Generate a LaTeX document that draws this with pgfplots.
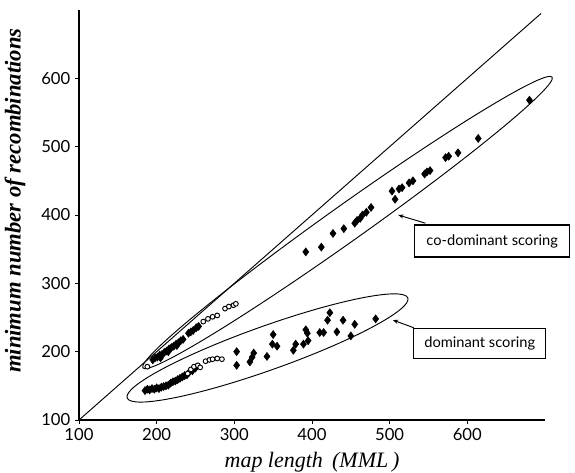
\documentclass[border=0pt]{standalone}
\usepackage{fontspec}
\setmainfont{Liberation Serif}
\newfontfamily\lato{Lato}
\usepackage{pgfplots}
\pgfplotsset{compat=1.18}
\usetikzlibrary{shapes.geometric,arrows.meta}

% co-dominant scoring, filled markers
\pgfplotstableread{
x y
195 188
198 191
201 192
204 195
205 191
207 196
210 199
213 201
215 200
216 204
219 206
222 208
225 211
226 209
228 213
231 216
234 218
241 227
244 229
247 231
251 235
254 237
392 346
412 353
427 373
441 380
455 388
458 392
462 395
465 400
470 404
476 411
503 435
507 423
512 438
516 440
525 447
530 450
545 460
548 463
552 465
572 484
576 486
588 491
614 512
680 568
}\codomfull

% co-dominant scoring, open markers
\pgfplotstableread{
x y
188 178
260 244
266 248
272 251
278 253
288 263
293 266
299 268
302 270
}\codomopen

% dominant scoring, filled markers
\pgfplotstableread{
x y
185 143
188 145
191 144
194 146
197 145
200 147
203 146
206 148
209 149
212 150
215 151
218 154
221 156
224 157
227 159
230 161
233 163
236 165
239 166
242 170
246 172
250 176
303 200
303 180
320 185
323 192
325 198
342 193
349 211
355 208
350 225
376 202
379 211
389 211
395 216
392 232
394 227
410 228
415 228
420 246
423 257
432 229
440 246
450 223
455 240
482 248
}\domfull

% dominant scoring, open markers
\pgfplotstableread{
x y
240 168
244 174
248 178
253 180
256 177
263 186
268 188
272 189
278 190
284 189
}\domopen

\begin{document}
\begin{tikzpicture}
\useasboundingbox (-59.25pt,-39.75pt) rectangle (372pt,315pt);
\begin{axis}[
  scale only axis,
  width=349.5pt, height=307.5pt,
  xmin=100, xmax=700, ymin=100, ymax=700,
  axis lines=left,
  axis line style={-, line width=0.8pt},
  xtick={100,200,...,600}, ytick={100,200,...,600},
  tick align=outside, major tick length=3pt,
  tick style={black, line width=0.6pt},
  /pgf/number format/assume math mode=true,
  tick label style={font=\lato\fontsize{12.5}{14}\selectfont},
  xlabel={map length\, (MML\,)},
  ylabel={minimum number of recombinations},
  xlabel style={font=\itshape\fontsize{16.5}{18}\selectfont, at={(axis description cs:0.5,-0.104)}, anchor=center},
  ylabel style={font=\bfseries\itshape\fontsize{17}{19}\selectfont, at={(axis description cs:-0.137,0.535)}, anchor=center},
  clip=false,
]
\addplot[black, line width=0.7pt] coordinates {(100,100) (695,695)};

\addplot[only marks, mark=diamond*, mark size=3pt, black] table {\codomfull};
\addplot[only marks, mark=*, mark size=1.8pt, mark options={fill=white, line width=0.7pt}, black] table {\codomopen};
\addplot[only marks, mark=diamond*, mark size=3pt, black] table {\domfull};
\addplot[only marks, mark=*, mark size=1.8pt, mark options={fill=white, line width=0.7pt}, black] table {\domopen};

\node[draw, ellipse, rotate=35.4, minimum width=376.5pt, minimum height=27pt, inner sep=0pt, line width=0.7pt] at (axis cs:445.7,389) {};
\node[draw, ellipse, rotate=19.6, minimum width=223.5pt, minimum height=33pt, inner sep=0pt, line width=0.7pt] at (axis cs:342.7,205.4) {};

\node[draw, line width=0.9pt, minimum width=116pt, minimum height=24pt, inner sep=0pt, fill=white, font=\lato\fontsize{11}{13}\selectfont] at (axis cs:632,362) {co-dominant scoring};
\node[draw, line width=0.9pt, minimum width=99pt, minimum height=23pt, inner sep=0pt, fill=white, font=\lato\fontsize{11}{13}\selectfont] at (axis cs:616,212) {dominant scoring};
\draw[line width=0.7pt, -{Stealth[length=4pt,width=3pt]}] (axis cs:546,388) -- (axis cs:511,400);
\draw[line width=0.7pt, -{Stealth[length=4pt,width=3pt]}] (axis cs:531,235) -- (axis cs:504,246.3);
\end{axis}
\end{tikzpicture}
\end{document}
